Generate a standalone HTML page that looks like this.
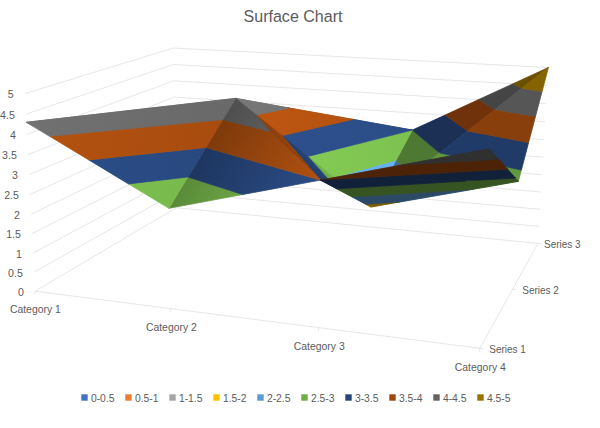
<!DOCTYPE html>
<html><head><meta charset="utf-8"><title>Surface Chart</title>
<style>
html,body{margin:0;padding:0;background:#fff;}
body{width:600px;height:428px;overflow:hidden;font-family:"Liberation Sans",sans-serif;}
svg{display:block;font-family:"Liberation Sans",sans-serif;}
</style></head><body>
<svg width="600" height="428" viewBox="0 0 600 428">
<rect width="600" height="428" fill="#ffffff"/>
<g fill="none" stroke="#e0e0e0" stroke-width="0.8"><polyline points="35,291.2 176.4,207.7 538,243.4"/><polyline points="34,272.2 176.1,192.3 539,226.4"/><polyline points="33.1,253 175.8,176.7 540,209.3"/><polyline points="32.1,233.7 175.5,161 541,192"/><polyline points="31.1,214.2 175.1,145.2 542,174.7"/><polyline points="30.1,194.5 174.8,129.2 543.1,157.1"/><polyline points="29.1,174.7 174.5,113.2 544.1,139.5"/><polyline points="28,154.7 174.2,97.1 545.2,121.7"/><polyline points="27,134.5 173.9,80.8 546.2,103.8"/><polyline points="26,114.1 173.6,64.5 547.3,85.7"/><polyline points="24.9,93.6 173.2,48 548.4,67.5"/><polyline points="35,291.2 479.9,348.3 538,243.4"/><line x1="35" y1="291.2" x2="34.5" y2="294.2"/><line x1="171" y1="308.7" x2="170.5" y2="311.7"/><line x1="318.8" y1="327.7" x2="318.3" y2="330.7"/><line x1="479.9" y1="348.3" x2="479.4" y2="351.3"/><line x1="479.9" y1="348.3" x2="483.4" y2="348.6"/><line x1="512.5" y1="289.4" x2="516" y2="289.7"/><line x1="538" y1="243.4" x2="541.5" y2="243.7"/></g>
<defs><linearGradient id="g1" gradientUnits="userSpaceOnUse" x1="412.3" y1="130.1" x2="236.9" y2="135.7"><stop offset="0" stop-color="#ffd700"/><stop offset="1" stop-color="#ffe600"/></linearGradient><linearGradient id="g2" gradientUnits="userSpaceOnUse" x1="412.3" y1="130.1" x2="236.9" y2="135.7"><stop offset="0" stop-color="#66aeef"/><stop offset="1" stop-color="#6dbaff"/></linearGradient><linearGradient id="g3" gradientUnits="userSpaceOnUse" x1="412.3" y1="130.1" x2="236.9" y2="135.7"><stop offset="0" stop-color="#7dc250"/><stop offset="1" stop-color="#86d055"/></linearGradient><linearGradient id="g4" gradientUnits="userSpaceOnUse" x1="412.3" y1="130.1" x2="236.9" y2="135.7"><stop offset="0" stop-color="#2b4c86"/><stop offset="1" stop-color="#2e5290"/></linearGradient><linearGradient id="g5" gradientUnits="userSpaceOnUse" x1="412.3" y1="130.1" x2="236.9" y2="135.7"><stop offset="0" stop-color="#b15110"/><stop offset="1" stop-color="#be5611"/></linearGradient><linearGradient id="g6" gradientUnits="userSpaceOnUse" x1="412.3" y1="130.1" x2="236.9" y2="135.7"><stop offset="0" stop-color="#6f6f6f"/><stop offset="1" stop-color="#777777"/></linearGradient><linearGradient id="g7" gradientUnits="userSpaceOnUse" x1="235.7" y1="98.4" x2="251.6" y2="83.1"><stop offset="0" stop-color="#d6a100"/><stop offset="1" stop-color="#ffdb00"/></linearGradient><linearGradient id="g8" gradientUnits="userSpaceOnUse" x1="235.7" y1="98.4" x2="251.6" y2="83.1"><stop offset="0" stop-color="#4c82b3"/><stop offset="1" stop-color="#68b1f3"/></linearGradient><linearGradient id="g9" gradientUnits="userSpaceOnUse" x1="235.7" y1="98.4" x2="251.6" y2="83.1"><stop offset="0" stop-color="#5e913c"/><stop offset="1" stop-color="#80c551"/></linearGradient><linearGradient id="g10" gradientUnits="userSpaceOnUse" x1="235.7" y1="98.4" x2="251.6" y2="83.1"><stop offset="0" stop-color="#203965"/><stop offset="1" stop-color="#2b4e89"/></linearGradient><linearGradient id="g11" gradientUnits="userSpaceOnUse" x1="235.7" y1="98.4" x2="251.6" y2="83.1"><stop offset="0" stop-color="#853c0c"/><stop offset="1" stop-color="#b45210"/></linearGradient><linearGradient id="g12" gradientUnits="userSpaceOnUse" x1="235.7" y1="98.4" x2="251.6" y2="83.1"><stop offset="0" stop-color="#535353"/><stop offset="1" stop-color="#717171"/></linearGradient><linearGradient id="g13" gradientUnits="userSpaceOnUse" x1="168.9" y1="208.3" x2="267" y2="268"><stop offset="0" stop-color="#497caa"/><stop offset="1" stop-color="#66aeef"/></linearGradient><linearGradient id="g14" gradientUnits="userSpaceOnUse" x1="168.9" y1="208.3" x2="267" y2="268"><stop offset="0" stop-color="#5a8a39"/><stop offset="1" stop-color="#7dc250"/></linearGradient><linearGradient id="g15" gradientUnits="userSpaceOnUse" x1="168.9" y1="208.3" x2="267" y2="268"><stop offset="0" stop-color="#1e3660"/><stop offset="1" stop-color="#2b4c86"/></linearGradient><linearGradient id="g16" gradientUnits="userSpaceOnUse" x1="168.9" y1="208.3" x2="267" y2="268"><stop offset="0" stop-color="#7e3a0b"/><stop offset="1" stop-color="#b15110"/></linearGradient><linearGradient id="g17" gradientUnits="userSpaceOnUse" x1="168.9" y1="208.3" x2="267" y2="268"><stop offset="0" stop-color="#4f4f4f"/><stop offset="1" stop-color="#6f6f6f"/></linearGradient><linearGradient id="g18" gradientUnits="userSpaceOnUse" x1="235.7" y1="98.4" x2="33.6" y2="70.2"><stop offset="0" stop-color="#60a4e2"/><stop offset="1" stop-color="#68b1f3"/></linearGradient><linearGradient id="g19" gradientUnits="userSpaceOnUse" x1="235.7" y1="98.4" x2="33.6" y2="70.2"><stop offset="0" stop-color="#77b74b"/><stop offset="1" stop-color="#80c551"/></linearGradient><linearGradient id="g20" gradientUnits="userSpaceOnUse" x1="235.7" y1="98.4" x2="33.6" y2="70.2"><stop offset="0" stop-color="#28487f"/><stop offset="1" stop-color="#2b4e89"/></linearGradient><linearGradient id="g21" gradientUnits="userSpaceOnUse" x1="235.7" y1="98.4" x2="33.6" y2="70.2"><stop offset="0" stop-color="#a74c0f"/><stop offset="1" stop-color="#b45210"/></linearGradient><linearGradient id="g22" gradientUnits="userSpaceOnUse" x1="235.7" y1="98.4" x2="33.6" y2="70.2"><stop offset="0" stop-color="#696969"/><stop offset="1" stop-color="#717171"/></linearGradient></defs>
<g stroke-width="0.8" stroke-linejoin="round"><polygon fill="#ffc000" stroke="#ffc000" points="289.3,154.3 289.3,154.3 175.1,145.2 175.1,145.2"/><polygon fill="#5b9bd5" stroke="#5b9bd5" points="279.2,143.8 289.3,154.3 175.1,145.2 186.2,136.6"/><polygon fill="#70ad47" stroke="#70ad47" points="268.6,132.8 279.2,143.8 186.2,136.6 198,127.5"/><polygon fill="#264478" stroke="#264478" points="257.4,121.1 268.6,132.8 198,127.5 210.7,117.8"/><polygon fill="#9e480e" stroke="#9e480e" points="245.6,108.8 257.4,121.1 210.7,117.8 224.2,107.3"/><polygon fill="#636363" stroke="#636363" points="235.7,98.4 245.6,108.8 224.2,107.3"/><polygon fill="#ffc000" stroke="#ffc000" points="175.1,145.2 175.1,145.2 175.1,145.2"/><polygon fill="#5b9bd5" stroke="#5b9bd5" points="110.7,161.7 116.7,158.7 186.2,136.6 175.1,145.2"/><polygon fill="#70ad47" stroke="#70ad47" points="116.7,158.7 146.9,143.4 198,127.5 186.2,136.6"/><polygon fill="#264478" stroke="#264478" points="146.9,143.4 177.8,127.7 210.7,117.8 198,127.5"/><polygon fill="#9e480e" stroke="#9e480e" points="177.8,127.7 209.7,111.6 224.2,107.3 210.7,117.8"/><polygon fill="#636363" stroke="#636363" points="209.7,111.6 235.7,98.4 224.2,107.3"/><polygon fill="#5b9bd5" stroke="#5b9bd5" points="106.8,159.9 110.7,161.7 116.7,158.7"/><polygon fill="#70ad47" stroke="#70ad47" points="86.5,150.4 106.8,159.9 116.7,158.7 146.9,143.4"/><polygon fill="#264478" stroke="#264478" points="64.7,140.2 86.5,150.4 146.9,143.4 177.8,127.7"/><polygon fill="#9e480e" stroke="#9e480e" points="41.3,129.2 64.7,140.2 177.8,127.7 209.7,111.6"/><polygon fill="#636363" stroke="#636363" points="26.4,122.3 41.3,129.2 209.7,111.6 235.7,98.4"/><polygon fill="#ffc000" stroke="#ffc000" points="289.3,154.3 289.3,154.3 289.3,154.3"/><polygon fill="#5b9bd5" stroke="#5b9bd5" points="279.2,143.8 289.3,154.3 349.5,142.5"/><polygon fill="#70ad47" stroke="#70ad47" points="268.6,132.8 279.2,143.8 349.5,142.5 412.3,130.1 412.3,130.1"/><polygon fill="#264478" stroke="#264478" points="257.4,121.1 268.6,132.8 412.3,130.1 412.3,130.1 352.8,119.4"/><polygon fill="#9e480e" stroke="#9e480e" points="245.6,108.8 257.4,121.1 352.8,119.4 289.4,108.1"/><polygon fill="#636363" stroke="#636363" points="235.7,98.4 245.6,108.8 289.4,108.1"/><polygon fill="#b28600" stroke="#b28600" points="370.9,207 378.4,193 382.6,197.8"/><polygon fill="#406c95" stroke="#406c95" points="378.4,193 396.1,160.2 411.4,175.1 382.6,197.8"/><polygon fill="#4e7932" stroke="#4e7932" points="396.1,160.2 412.3,130.1 412.3,130.1 439.7,152.9 411.4,175.1"/><polygon fill="#1b3054" stroke="#1b3054" points="412.3,130.1 412.3,130.1 445.1,115.1 467.6,131 439.7,152.9"/><polygon fill="#6f320a" stroke="#6f320a" points="445.1,115.1 478.6,99.6 495,109.5 467.6,131"/><polygon fill="#454545" stroke="#454545" points="478.6,99.6 513,83.8 521.9,88.3 495,109.5"/><polygon fill="#6b5000" stroke="#6b5000" points="513,83.8 548.4,67.5 521.9,88.3"/><polygon fill="#dea700" stroke="#dea700" points="370.9,207 399.3,202 382.6,197.8"/><polygon fill="#4f87b9" stroke="#4f87b9" points="399.3,202 472.6,189.3 411.4,175.1 382.6,197.8"/><polygon fill="#61973e" stroke="#61973e" points="472.6,189.3 518.4,181.3 521.4,170 439.7,152.9 411.4,175.1"/><polygon fill="#213b68" stroke="#213b68" points="521.4,170 528.6,142.5 467.6,131 439.7,152.9"/><polygon fill="#893f0c" stroke="#893f0c" points="528.6,142.5 535.5,116.4 495,109.5 467.6,131"/><polygon fill="#565656" stroke="#565656" points="535.5,116.4 542.1,91.4 521.9,88.3 495,109.5"/><polygon fill="#856400" stroke="#856400" points="542.1,91.4 548.4,67.5 521.9,88.3"/><polygon fill="url(#g1)" stroke="url(#g1)" points="360.3,198.5 370.9,207 378.4,193"/><polygon fill="url(#g2)" stroke="url(#g2)" points="334,177.4 360.3,198.5 378.4,193 396.1,160.2"/><polygon fill="url(#g3)" stroke="url(#g3)" points="307.9,156.4 334,177.4 396.1,160.2 412.3,130.1 412.3,130.1"/><polygon fill="url(#g4)" stroke="url(#g4)" points="282,135.6 307.9,156.4 412.3,130.1 412.3,130.1 352.8,119.4"/><polygon fill="url(#g5)" stroke="url(#g5)" points="256.2,114.9 282,135.6 352.8,119.4 289.4,108.1"/><polygon fill="url(#g6)" stroke="url(#g6)" points="235.7,98.4 256.2,114.9 289.4,108.1"/><polygon fill="url(#g7)" stroke="url(#g7)" points="365.7,204.2 370.9,207 360.3,198.5"/><polygon fill="url(#g8)" stroke="url(#g8)" points="351.9,196.8 365.7,204.2 360.3,198.5 334,177.4"/><polygon fill="url(#g9)" stroke="url(#g9)" points="336.8,188.8 351.9,196.8 334,177.4 307.9,156.4"/><polygon fill="url(#g10)" stroke="url(#g10)" points="320.5,180.1 336.8,188.8 307.9,156.4 282,135.6 320.5,180.1"/><polygon fill="url(#g11)" stroke="url(#g11)" points="320.5,180.1 320.5,180.1 282,135.6 256.2,114.9 270,131.5"/><polygon fill="url(#g12)" stroke="url(#g12)" points="256.2,114.9 235.7,98.4 270,131.5"/><polygon fill="url(#g13)" stroke="url(#g13)" points="168.9,208.3 168.9,208.3 168.9,208.3"/><polygon fill="url(#g14)" stroke="url(#g14)" points="168.9,208.3 242.7,194.5 187.9,177"/><polygon fill="url(#g15)" stroke="url(#g15)" points="242.7,194.5 320.5,180.1 320.5,180.1 205.9,147.5 187.9,177"/><polygon fill="url(#g16)" stroke="url(#g16)" points="320.5,180.1 320.5,180.1 270,131.5 222.8,119.6 205.9,147.5"/><polygon fill="url(#g17)" stroke="url(#g17)" points="270,131.5 235.7,98.4 222.8,119.6"/><polygon fill="url(#g18)" stroke="url(#g18)" points="168.9,208.3 168.9,208.3 168.9,208.3"/><polygon fill="url(#g19)" stroke="url(#g19)" points="128.5,183.9 168.9,208.3 187.9,177"/><polygon fill="url(#g20)" stroke="url(#g20)" points="88.8,159.9 128.5,183.9 187.9,177 205.9,147.5"/><polygon fill="url(#g21)" stroke="url(#g21)" points="49.6,136.3 88.8,159.9 205.9,147.5 222.8,119.6"/><polygon fill="url(#g22)" stroke="url(#g22)" points="26.4,122.3 49.6,136.3 222.8,119.6 235.7,98.4"/><polygon fill="#365322" stroke="#365322" points="515.4,178 518.4,181.3 465.6,181"/><polygon fill="#12213a" stroke="#12213a" points="320.5,180.1 320.5,180.1 507.5,169.1 515.4,178 465.6,181"/><polygon fill="#4c2307" stroke="#4c2307" points="320.5,180.1 402.6,164.8 498.8,159.3 507.5,169.1 320.5,180.1"/><polygon fill="#303030" stroke="#303030" points="402.6,164.8 489.3,148.7 498.8,159.3"/><polygon fill="#493700" stroke="#493700" points="489.3,148.7 489.3,148.7 489.3,148.7"/><polygon fill="#7a5c00" stroke="#7a5c00" points="399.3,202 370.9,207 365.7,204.2"/><polygon fill="#2c4a66" stroke="#2c4a66" points="472.6,189.3 399.3,202 365.7,204.2 351.9,196.8"/><polygon fill="#365322" stroke="#365322" points="465.6,181 518.4,181.3 472.6,189.3 351.9,196.8 336.8,188.8"/><polygon fill="#12213a" stroke="#12213a" points="320.5,180.1 465.6,181 336.8,188.8"/><polygon fill="#4c2307" stroke="#4c2307" points="320.5,180.1 320.5,180.1 320.5,180.1"/></g>
<rect x="81.3" y="394.3" width="6.4" height="6.4" fill="#4472C4"/><rect x="125.3" y="394.3" width="6.4" height="6.4" fill="#ED7D31"/><rect x="169.3" y="394.3" width="6.4" height="6.4" fill="#A5A5A5"/><rect x="213.3" y="394.3" width="6.4" height="6.4" fill="#FFC000"/><rect x="257.3" y="394.3" width="6.4" height="6.4" fill="#5B9BD5"/><rect x="301.3" y="394.3" width="6.4" height="6.4" fill="#70AD47"/><rect x="345.3" y="394.3" width="6.4" height="6.4" fill="#264478"/><rect x="389.3" y="394.3" width="6.4" height="6.4" fill="#9E480E"/><rect x="433.3" y="394.3" width="6.4" height="6.4" fill="#636363"/><rect x="477.3" y="394.3" width="6.4" height="6.4" fill="#997300"/>
<g font-size="10.6" fill="#5c5c5c"><text x="23.8" y="295.8" text-anchor="end">0</text><text x="22.8" y="276.8" text-anchor="end">0.5</text><text x="21.9" y="257.6" text-anchor="end">1</text><text x="20.9" y="238.3" text-anchor="end">1.5</text><text x="19.9" y="218.8" text-anchor="end">2</text><text x="18.9" y="199.1" text-anchor="end">2.5</text><text x="17.9" y="179.3" text-anchor="end">3</text><text x="16.8" y="159.3" text-anchor="end">3.5</text><text x="15.8" y="139.1" text-anchor="end">4</text><text x="14.8" y="118.7" text-anchor="end">4.5</text><text x="13.7" y="98.2" text-anchor="end">5</text><text x="35.4" y="313.4" text-anchor="middle" textLength="51" lengthAdjust="spacingAndGlyphs">Category 1</text><text x="171.4" y="330.9" text-anchor="middle" textLength="51" lengthAdjust="spacingAndGlyphs">Category 2</text><text x="319.2" y="349.9" text-anchor="middle" textLength="51" lengthAdjust="spacingAndGlyphs">Category 3</text><text x="480.3" y="370.5" text-anchor="middle" textLength="51" lengthAdjust="spacingAndGlyphs">Category 4</text><text x="489.3" y="352.6" textLength="36.6" lengthAdjust="spacingAndGlyphs">Series 1</text><text x="522.3" y="293.7" textLength="36.6" lengthAdjust="spacingAndGlyphs">Series 2</text><text x="544" y="247.7" textLength="36.6" lengthAdjust="spacingAndGlyphs">Series 3</text><text x="90.9" y="401.7" textLength="23.6" lengthAdjust="spacingAndGlyphs">0-0.5</text><text x="134.9" y="401.7" textLength="23.6" lengthAdjust="spacingAndGlyphs">0.5-1</text><text x="178.9" y="401.7" textLength="23.6" lengthAdjust="spacingAndGlyphs">1-1.5</text><text x="222.9" y="401.7" textLength="23.6" lengthAdjust="spacingAndGlyphs">1.5-2</text><text x="266.9" y="401.7" textLength="23.6" lengthAdjust="spacingAndGlyphs">2-2.5</text><text x="310.9" y="401.7" textLength="23.6" lengthAdjust="spacingAndGlyphs">2.5-3</text><text x="354.9" y="401.7" textLength="23.6" lengthAdjust="spacingAndGlyphs">3-3.5</text><text x="398.9" y="401.7" textLength="23.6" lengthAdjust="spacingAndGlyphs">3.5-4</text><text x="442.9" y="401.7" textLength="23.6" lengthAdjust="spacingAndGlyphs">4-4.5</text><text x="486.9" y="401.7" textLength="23.6" lengthAdjust="spacingAndGlyphs">4.5-5</text></g>
<text x="293" y="22.2" font-size="16.7" fill="#5c5c5c" text-anchor="middle" textLength="99" lengthAdjust="spacingAndGlyphs">Surface Chart</text>
</svg>
</body></html>
